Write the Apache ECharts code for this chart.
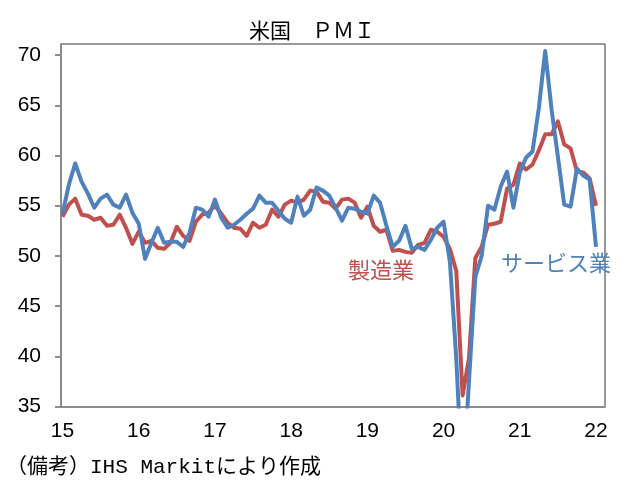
<!DOCTYPE html>
<html>
<head>
<meta charset="utf-8">
<script src="https://cdn.jsdelivr.net/npm/echarts@6/dist/echarts.min.js"></script>
<style>
html,body{margin:0;padding:0;background:#fff;}
#c{width:631px;height:485px;}
</style>
</head>
<body>
<div id="c"></div>
<script>
// Monthly, Jan 2015 - Jan 2022
var yearLabels = ['15','16','17','18','19','20','21','22'];
var manufacturing = [
  53.9,55.1,55.7,54.1,54.0,53.6,53.8,53.0,53.1,54.1,52.8,51.2,
  52.4,51.3,51.5,50.8,50.7,51.3,52.9,52.0,51.5,53.4,54.1,54.3,
  55.0,54.2,53.3,52.8,52.7,52.0,53.3,52.8,53.1,54.6,53.9,55.1,
  55.5,55.3,55.6,56.5,56.4,55.4,55.3,54.7,55.6,55.7,55.3,53.8,
  54.9,53.0,52.4,52.6,50.5,50.6,50.4,50.3,51.1,51.3,52.6,52.4,
  51.9,50.7,48.5,36.1,39.8,49.8,50.9,53.1,53.2,53.4,56.7,57.1,
  59.2,58.6,59.1,60.5,62.1,62.1,63.4,61.1,60.7,58.4,58.3,57.7,
  55.0
];
var services = [
  54.2,57.1,59.2,57.4,56.2,54.8,55.7,56.1,55.1,54.8,56.1,54.3,
  53.2,49.7,51.3,52.8,51.3,51.4,51.4,50.9,52.3,54.8,54.6,53.9,
  55.6,53.8,52.8,53.1,53.6,54.2,54.7,56.0,55.3,55.3,54.5,53.7,
  53.3,55.9,54.0,54.6,56.8,56.5,56.0,54.8,53.5,54.8,54.7,54.4,
  54.2,56.0,55.3,53.0,50.9,51.5,53.0,50.7,50.9,50.6,51.6,52.8,
  53.4,49.4,39.8,26.7,37.5,47.9,50.0,55.0,54.6,56.9,58.4,54.8,
  58.3,59.8,60.4,64.7,70.4,64.6,59.9,55.1,54.9,58.7,58.0,57.6,
  50.9
];
var yTicks = [35,40,45,50,55,60,65,70];
var seriesNames = ['製造業','サービス業'];

function toPairs(arr){ return arr.map(function(v,i){ return [i, v]; }); }
var xTicks = yearLabels.map(function(_, i){ return i*12; });

var numFont = '"Liberation Sans",Arial,sans-serif';
var jpFont = '"Noto Sans CJK JP",sans-serif';

var chart = echarts.init(document.getElementById('c'), null, {renderer:'canvas'});
chart.setOption({
  animation:false,
  backgroundColor:'#fff',
  title:{
    text:'米国　ＰＭＩ', left:307, top:15, textAlign:'center',
    textStyle:{fontFamily:jpFont, fontSize:21, fontWeight:'normal', color:'#000'}
  },
  grid:{left:61, top:44, width:544, height:362.5, show:true, borderColor:'#333', borderWidth:1, backgroundColor:'transparent'},
  xAxis:{
    type:'value', min:-0.24, max:85.42,
    splitLine:{show:false},
    axisLine:{show:true, onZero:false, lineStyle:{color:'#8c8c8c', width:2}},
    axisTick:{show:false},
    axisLabel:{
      customValues: xTicks,
      formatter:function(v){ var k = Math.round(v/12); return yearLabels[k] || ''; },
      margin:14, fontFamily:numFont, fontSize:21, color:'#000'
    }
  },
  yAxis:{
    type:'value', min:35, max:71.1,
    splitLine:{show:false},
    axisLine:{show:true, onZero:false, lineStyle:{color:'#8c8c8c', width:2}},
    axisTick:{show:true, inside:false, length:6, customValues:yTicks, lineStyle:{color:'#8c8c8c', width:2}},
    axisLabel:{customValues:yTicks, margin:20, fontFamily:numFont, fontSize:21, color:'#000'}
  },
  series:[
    {name:seriesNames[0], type:'line', data:toPairs(manufacturing), showSymbol:false, symbol:'none', clip:true,
     lineStyle:{color:'#C0504D', width:4, join:'round'}},
    {name:seriesNames[1], type:'line', data:toPairs(services), showSymbol:false, symbol:'none', clip:true,
     lineStyle:{color:'#4F81BD', width:4, join:'round'}}
  ],
  graphic:[
    {type:'text', left:348, top:259, style:{text:seriesNames[0], fill:'#C0504D', font:'22px "Noto Sans CJK JP",sans-serif'}},
    {type:'text', left:501, top:252, style:{text:seriesNames[1], fill:'#4F81BD', font:'22px "Noto Sans CJK JP",sans-serif'}},
    {type:'text', left:6, top:457, style:{text:'（備考）IHS Markitにより作成', fill:'#000', font:'21px "Liberation Mono","Noto Sans CJK JP",monospace'}}
  ]
});
</script>
</body>
</html>
